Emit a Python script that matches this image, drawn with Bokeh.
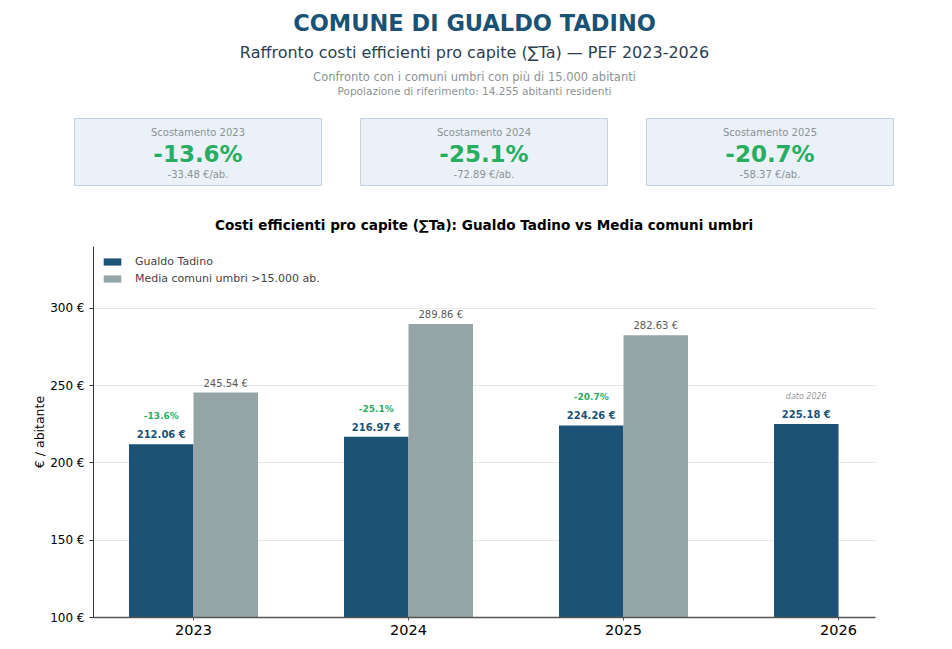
from bokeh.plotting import figure
from bokeh.models import (ColumnDataSource, LabelSet, Legend, LegendItem, FixedTicker,
                          PrintfTickFormatter, Range1d)
from bokeh.layouts import column
from bokeh.embed import file_html
from bokeh.resources import INLINE
from bokeh.core.properties import value

# ---------------- data ----------------
years = ["2023", "2024", "2025", "2026"]
gualdo = [212.06, 216.97, 224.26, 225.18]
media = [245.54, 289.86, 282.63]
comune = "COMUNE DI GUALDO TADINO"
subtitle = "Raffronto costi efficienti pro capite (∑Ta) — PEF 2023-2026"
note1 = "Confronto con i comuni umbri con più di 15.000 abitanti"
note2 = "Popolazione di riferimento: 14.255 abitanti residenti"
chart_title = "Costi efficienti pro capite (∑Ta): Gualdo Tadino vs Media comuni umbri"
series_names = ["Gualdo Tadino", "Media comuni umbri >15.000 ab."]
y_ticks = [100, 150, 200, 250, 300]

# derived
diffs = [g - m for g, m in zip(gualdo, media)]
pcts = [d / m * 100 for d, m in zip(diffs, media)]

# ---------------- styles ----------------
FONT = value("DejaVu Sans")
BLUE = "#1b5276"
GREY = "#95a5a6"
GREEN = "#27ae60"
W = 944
TOP_H = 240
CH_H = 401

# ---------------- header figure ----------------
head = figure(width=W, height=TOP_H, x_range=Range1d(0, W), y_range=Range1d(TOP_H, 0),
              output_backend="svg", toolbar_location=None, min_border=0,
              x_axis_location=None, y_axis_location=None)
head.grid.visible = False
head.outline_line_color = None
head.frame_align = False

def htext(x, y, t, size, color, style="normal"):
    head.text(x=[x], y=[y], text=[t], text_font=FONT, text_font_size=size,
              text_font_style=style, text_color=color, text_align="center",
              text_baseline="middle")

cx = 474
htext(cx, 22, comune, "22.5px", "#1a5276", "bold")
htext(cx, 52, subtitle, "16px", "#2c3e50")
htext(cx, 76, note1, "11.5px", "#8c9396")
htext(cx, 90, note2, "10.5px", "#8c9396")

card_w = 247
card_left = [74, 360, 646]
head.quad(left=card_left, right=[l + card_w for l in card_left], top=[118] * 3, bottom=[185] * 3,
          fill_color="#eaf1f8", line_color="#c8d2dc", line_width=1)
for i, l in enumerate(card_left):
    c = l + card_w / 2
    htext(c, 132, f"Scostamento {years[i]}", "10px", "#8c9396")
    htext(c, 153, f"{pcts[i]:.1f}%", "23px", GREEN, "bold")
    htext(c, 174, f"{diffs[i]:.2f} €/ab.", "10px", "#8c9396")

htext(483.5, 224, chart_title, "13.6px", "#000000", "bold")

# ---------------- chart ----------------
p = figure(width=W, height=CH_H, x_range=Range1d(-0.465, 3.172), y_range=Range1d(100, 340),
           output_backend="svg", toolbar_location=None,
           min_border_left=93, min_border_right=69, min_border_top=6, min_border_bottom=24)
p.outline_line_color = None
p.background_fill_color = "white"
p.border_fill_color = "white"
p.frame_align = False

bw = 0.3
g_src = ColumnDataSource(dict(x=[i - bw / 2 for i in range(len(gualdo))], top=gualdo,
                              label=[f"{v:.2f} €" for v in gualdo]))
m_src = ColumnDataSource(dict(x=[i + bw / 2 for i in range(len(media))], top=media,
                              label=[f"{v:.2f} €" for v in media]))

r1 = p.vbar(x="x", top="top", bottom=0, width=bw, source=g_src, fill_color=BLUE, line_color=None)
r2 = p.vbar(x="x", top="top", bottom=0, width=bw, source=m_src, fill_color=GREY, line_color=None)

p.add_layout(LabelSet(x="x", y="top", text="label", source=g_src, text_align="center",
                      text_baseline="bottom", y_offset=4, text_font=FONT, text_font_size="10px",
                      text_font_style="bold", text_color=BLUE))
p.add_layout(LabelSet(x="x", y="top", text="label", source=m_src, text_align="center",
                      text_baseline="bottom", y_offset=4, text_font=FONT, text_font_size="10px",
                      text_color="#5a5a5a"))

n = len(media)
pct_src = ColumnDataSource(dict(x=g_src.data["x"][:n], y=gualdo[:n],
                                t=[f"{v:.1f}%" for v in pcts]))
p.add_layout(LabelSet(x="x", y="y", text="t", source=pct_src, text_align="center",
                      text_baseline="bottom", y_offset=23, text_font=FONT, text_font_size="9px",
                      text_font_style="bold", text_color=GREEN))
dato_src = ColumnDataSource(dict(x=g_src.data["x"][n:], y=gualdo[n:],
                                 t=[f"dato {y}" for y in years[n:]]))
p.add_layout(LabelSet(x="x", y="y", text="t", source=dato_src, text_align="center",
                      text_baseline="bottom", y_offset=23, text_font=FONT, text_font_size="8px",
                      text_font_style="italic", text_color="#999999"))

# axes
p.xaxis.ticker = FixedTicker(ticks=list(range(len(years))))
p.xaxis.major_label_overrides = {i: y for i, y in enumerate(years)}
p.xaxis.major_label_text_font = "DejaVu Sans"
p.xaxis.major_label_text_font_size = "14.5px"
p.xaxis.major_label_text_color = "#000000"
p.xaxis.axis_line_color = "#555555"
p.xaxis.axis_line_width = 1.5
p.xaxis.major_tick_line_color = "#555555"
p.xaxis.major_tick_in = 0
p.xaxis.major_tick_out = 3
p.xaxis.major_label_standoff = 4
p.xaxis.minor_tick_line_color = None

p.yaxis.ticker = FixedTicker(ticks=y_ticks)
p.yaxis.formatter = PrintfTickFormatter(format="%d €")
p.yaxis.major_label_text_font = "DejaVu Sans"
p.yaxis.major_label_text_font_size = "12px"
p.yaxis.major_label_text_color = "#000000"
p.yaxis.axis_line_color = "#333333"
p.yaxis.major_tick_line_color = "#333333"
p.yaxis.major_tick_in = 0
p.yaxis.major_tick_out = 4
p.yaxis.major_label_standoff = 5
p.yaxis.minor_tick_line_color = None
p.yaxis.axis_label = "€ / abitante"
p.yaxis.axis_label_text_font = "DejaVu Sans"
p.yaxis.axis_label_text_font_size = "12.5px"
p.yaxis.axis_label_text_font_style = "normal"
p.yaxis.axis_label_text_color = "#000000"
p.yaxis.axis_label_standoff = 0

p.xgrid.visible = False
p.ygrid.ticker = FixedTicker(ticks=y_ticks)
p.ygrid.grid_line_color = "#e8e8e8"

legend = Legend(items=[LegendItem(label=series_names[0], renderers=[r1]),
                       LegendItem(label=series_names[1], renderers=[r2])],
                location="top_left", margin=8, padding=7, spacing=3,
                glyph_width=22, glyph_height=9, label_height=14, label_standoff=12,
                label_text_font="DejaVu Sans", label_text_font_size="11px",
                border_line_color=None, background_fill_alpha=0)
p.add_layout(legend)

layout = column(head, p, spacing=0)
open("out.html", "w").write(file_html(layout, INLINE))
